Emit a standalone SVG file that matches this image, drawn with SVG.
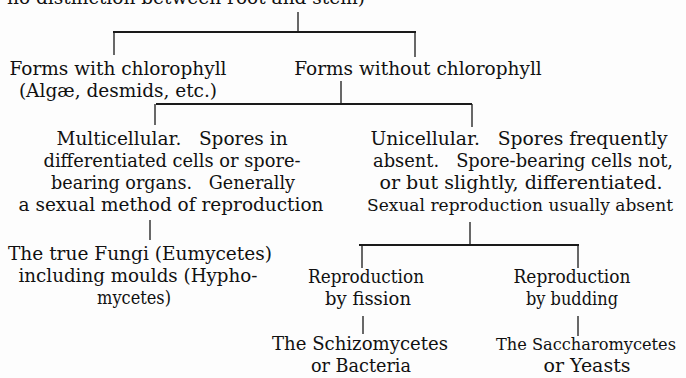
<svg xmlns="http://www.w3.org/2000/svg" width="686" height="378" viewBox="0 0 686 378">
<style>
text{font-family:"DejaVu Serif","Liberation Serif",serif;font-size:18.5px;fill:#111;text-anchor:middle;white-space:pre}
.s{font-size:17px}
.t{font-size:16.3px}
.h{stroke:#1a1a1a;stroke-width:2;fill:none}
.v{stroke:#1a1a1a;stroke-width:1.3;fill:none}
</style>
<rect width="686" height="378" fill="#fdfdfd"/>
<g id="root"><text x="186" y="4" textLength="358" lengthAdjust="spacingAndGlyphs">no distinction between root and stem)</text></g>
<g id="with-chlorophyll"><text x="118" y="75">Forms with chlorophyll</text><text x="118" y="97">(Algæ, desmids, etc.)</text></g>
<g id="without-chlorophyll"><text x="418" y="75">Forms without chlorophyll</text></g>
<g id="multicellular"><text x="172" y="145">Multicellular.   Spores in</text><text x="172" y="167" textLength="257" lengthAdjust="spacingAndGlyphs">differentiated cells or spore-</text><text x="173" y="189" textLength="244" lengthAdjust="spacingAndGlyphs">bearing organs.   Generally</text><text x="171" y="211" textLength="305" lengthAdjust="spacingAndGlyphs">a sexual method of reproduction</text></g>
<g id="unicellular"><text x="519" y="145" textLength="297" lengthAdjust="spacingAndGlyphs">Unicellular.   Spores frequently</text><text x="523" y="167" textLength="300" lengthAdjust="spacingAndGlyphs">absent.   Spore-bearing cells not,</text><text x="521" y="189" textLength="283" lengthAdjust="spacingAndGlyphs">or but slightly, differentiated.</text><text class="s" x="520" y="211" textLength="306" lengthAdjust="spacingAndGlyphs">Sexual reproduction usually absent</text></g>
<g id="fungi"><text x="140" y="260" textLength="264" lengthAdjust="spacingAndGlyphs">The true Fungi (Eumycetes)</text><text x="138" y="282" textLength="239" lengthAdjust="spacingAndGlyphs">including moulds (Hypho-</text><text x="134" y="304" textLength="74" lengthAdjust="spacingAndGlyphs">mycetes)</text></g>
<g id="fission"><text x="366" y="283" textLength="116" lengthAdjust="spacingAndGlyphs">Reproduction</text><text x="368" y="305" textLength="86" lengthAdjust="spacingAndGlyphs">by fission</text></g>
<g id="budding"><text x="572" y="283" textLength="117" lengthAdjust="spacingAndGlyphs">Reproduction</text><text x="572" y="305" textLength="92" lengthAdjust="spacingAndGlyphs">by budding</text></g>
<g id="schizomycetes"><text x="360" y="350" textLength="176" lengthAdjust="spacingAndGlyphs">The Schizomycetes</text><text x="361" y="372" textLength="100" lengthAdjust="spacingAndGlyphs">or Bacteria</text></g>
<g id="saccharomycetes"><text class="t" x="586" y="350" textLength="180" lengthAdjust="spacingAndGlyphs">The Saccharomycetes</text><text x="587" y="372" textLength="87" lengthAdjust="spacingAndGlyphs">or Yeasts</text></g>
<g id="connectors">
<path class="v" d="M298 12V32M114 32V55M415 32V57M341 81V104M155 104V125M472 104V127M150 220V240M470 222V245M362 245V268M578 245V268M363 316V334M578 316V336"/>
<path class="h" d="M113 32H416M156 104H472M359 245H579"/>
</g>
</svg>
